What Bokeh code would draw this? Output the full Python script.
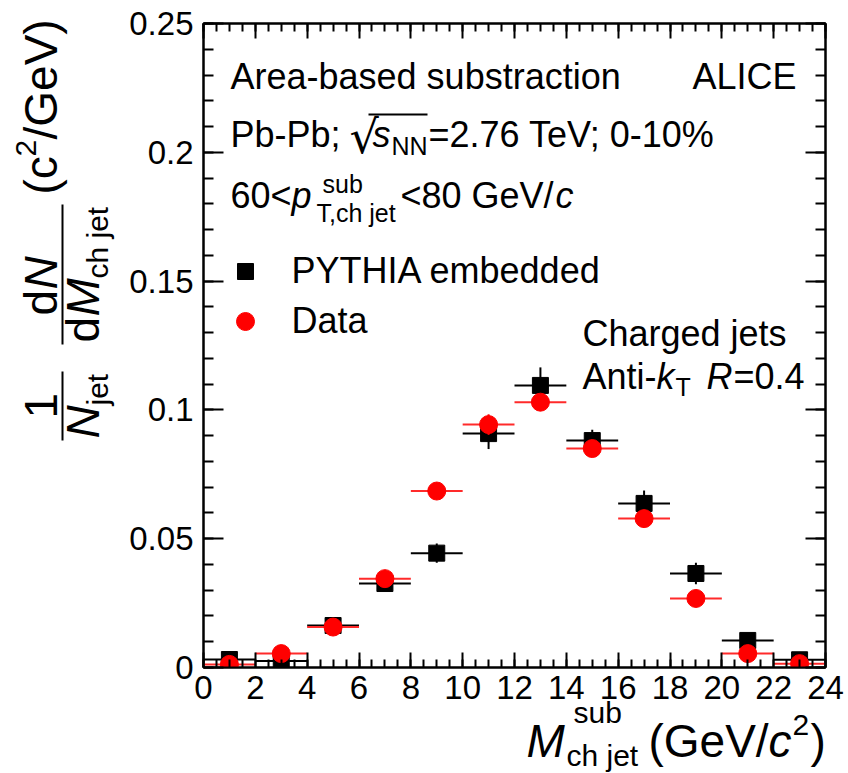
import numpy as np
from bokeh.plotting import figure
from bokeh.layouts import row, column
from bokeh.models import (Label, LinearAxis, FixedTicker, Range1d,
                          CustomJSTickFormatter, ColumnDataSource)
from bokeh.embed import file_html
from bokeh.resources import INLINE

# ---------------- data ----------------
mass_centers = [1, 3, 5, 7, 9, 11, 13, 15, 17, 19, 21, 23]          # GeV/c^2
bin_half_width = [1, 1, 1, 1, 1, 1, 1, 1, 1, 1, 1, 1]
pythia_vals = [0.0031, 0.0025, 0.0163, 0.0326, 0.0444, 0.0908,
               0.1095, 0.0881, 0.0637, 0.0365, 0.0105, 0.0030]
pythia_err = [0.0010, 0.0010, 0.0012, 0.0020, 0.0037, 0.0060,
              0.0070, 0.0042, 0.0050, 0.0042, 0.0020, 0.0010]
data_vals = [0.0012, 0.0054, 0.0157, 0.0345, 0.0685, 0.0943,
             0.1030, 0.0850, 0.0578, 0.0268, 0.0054, 0.0015]
data_err = [0.0005, 0.0010, 0.0010, 0.0015, 0.0020, 0.0040,
            0.0030, 0.0020, 0.0020, 0.0015, 0.0010, 0.0005]

x_ticks = [0, 2, 4, 6, 8, 10, 12, 14, 16, 18, 20, 22, 24]
y_ticks = [0, 0.05, 0.1, 0.15, 0.2, 0.25]

# ---------------- geometry (page pixels) ----------------
W, H = 848, 773
YT_W = 120                 # width of the y-title panel
MH = 717                   # height of the main figure
XT_TOP = 695               # top of the x-title panel on the page
FL, FR, FT, FB = 203, 825, 23, 667   # frame edges on the page
X0, X1 = 0.0, 24.0
Y0, Y1 = 0.0, 0.25
FONT = "Liberation Sans"
MW = W - YT_W


def dx(sx):
    return X0 + (sx - FL) * (X1 - X0) / (FR - FL)


def dy(sy):
    return Y0 + (FB - sy) * (Y1 - Y0) / (FB - FT)


p = figure(width=MW, height=MH, x_range=(X0, X1), y_range=(Y0, Y1),
           output_backend="svg", toolbar_location=None,
           min_border_left=FL - YT_W, min_border_right=W - FR,
           min_border_top=FT, min_border_bottom=MH - FB)
p.frame_align = False
p.xgrid.grid_line_color = None
p.ygrid.grid_line_color = None
p.outline_line_color = "black"
p.outline_line_width = 2
p.background_fill_color = "white"
p.border_fill_color = "white"

x_minor = list(np.arange(0, 24.01, 0.5))
y_minor = list(np.round(np.arange(0, 0.2501, 0.01), 3))


def style_axis(ax, ticks, minor, tin, min_in, labels=True):
    ax.ticker = FixedTicker(ticks=ticks, minor_ticks=minor)
    ax.axis_line_width = 2
    ax.axis_line_color = "black"
    ax.major_tick_in = tin
    ax.major_tick_out = 0
    ax.minor_tick_in = min_in
    ax.minor_tick_out = 0
    ax.major_tick_line_width = 2
    ax.minor_tick_line_width = 2
    ax.major_tick_line_color = "black"
    ax.minor_tick_line_color = "black"
    if labels:
        ax.major_label_text_font = FONT
        ax.major_label_text_font_size = "33px"
        ax.major_label_text_color = "black"
    else:
        ax.major_label_text_font_size = "1px"
        ax.major_label_text_alpha = 0
        ax.major_label_standoff = 0


style_axis(p.xaxis[0], x_ticks, x_minor, 15, 8)
p.xaxis[0].major_label_standoff = 8
style_axis(p.yaxis[0], y_ticks, y_minor, 20, 10)
p.yaxis[0].major_label_standoff = 10
p.yaxis[0].formatter = CustomJSTickFormatter(
    code="return tick == 0 ? '0' : String(parseFloat(tick.toFixed(3)));")

top_ax = LinearAxis()
style_axis(top_ax, x_ticks, x_minor, 15, 8, labels=False)
p.add_layout(top_ax, "above")
right_ax = LinearAxis()
style_axis(right_ax, y_ticks, y_minor, 20, 10, labels=False)
p.add_layout(right_ax, "right")

# ---------------- data marks ----------------
xc = np.array(mass_centers, dtype=float)
hw = np.array(bin_half_width, dtype=float)
py = np.array(pythia_vals)
pe = np.array(pythia_err)
dv = np.array(data_vals)
de = np.array(data_err)

src_p = ColumnDataSource(dict(x=xc, xl=xc - hw, xr=xc + hw, y=py,
                              yl=py - pe, yh=py + pe))
src_d = ColumnDataSource(dict(x=xc, xl=xc - hw, xr=xc + hw, y=dv,
                              yl=dv - de, yh=dv + de))

p.segment(x0="xl", y0="y", x1="xr", y1="y", source=src_p,
          line_color="black", line_width=2)
p.segment(x0="x", y0="yl", x1="x", y1="yh", source=src_p,
          line_color="black", line_width=2)
p.scatter(x="x", y="y", source=src_p, marker="square", size=16,
          fill_color="black", line_color="black")

p.segment(x0="xl", y0="y", x1="xr", y1="y", source=src_d,
          line_color="#ff2a2a", line_width=2)
p.segment(x0="x", y0="yl", x1="x", y1="yh", source=src_d,
          line_color="#ff0000", line_width=2)
p.scatter(x="x", y="y", source=src_d, marker="circle", size=18,
          fill_color="#ff0000", line_color="#ff0000")


# ---------------- texts (anchor = visual middle of the text) ----------------
def make_txt(fig, fx, fy):
    def txt(sx, sy, text, size, align="left", italic=False, angle=0.0,
            font=FONT):
        fig.add_layout(Label(x=fx(sx), y=fy(sy), text=text,
                             text_font=font, text_font_size=f"{size}px",
                             text_font_style="italic" if italic else "normal",
                             text_align=align, text_baseline="middle",
                             text_color="black", angle=angle))
    return txt


txt = make_txt(p, dx, dy)

# line 1
txt(230, 76, "Area-based substraction", 36)
txt(796, 76, "ALICE", 36, align="right")
# line 2
txt(230, 134, "Pb-Pb;", 36)
txt(349, 136, "\u221a", 46, font="DejaVu Sans")
txt(372, 134, "s", 36, italic=True)
txt(391, 145, "NN", 25)
txt(428, 134, "=2.76 TeV; 0-10%", 36)
p.segment(x0=[dx(368)], y0=[dy(114)], x1=[dx(427)], y1=[dy(114)],
          line_color="black", line_width=2)
# line 3
txt(230, 195, "60<", 36)
txt(291, 195, "p", 36, italic=True)
txt(322, 183, "sub", 25)
txt(316, 212, "T,ch jet", 25)
txt(400, 195, "<80 GeV/", 36)
txt(555, 195, "c", 36, italic=True)

# legend
p.scatter(x=[dx(245)], y=[dy(271)], marker="square", size=16,
          fill_color="black", line_color="black")
p.scatter(x=[dx(245)], y=[dy(321)], marker="circle", size=18,
          fill_color="#ff0000", line_color="#ff0000")
txt(291, 270, "PYTHIA embedded", 36)
txt(291, 320, "Data", 36)

# jet definition
txt(582, 333, "Charged jets", 36)
txt(582, 376, "Anti-", 36)
txt(656, 376, "k", 36, italic=True)
txt(675, 386, "T", 25)
txt(706, 376, "R", 36, italic=True)
txt(733, 376, "=0.4", 36)


def blank_fig(w, h, xr, yr):
    f = figure(width=w, height=h, x_range=Range1d(*xr), y_range=Range1d(*yr),
               output_backend="svg", toolbar_location=None,
               x_axis_type=None, y_axis_type=None, min_border=0)
    f.frame_align = False
    f.xgrid.grid_line_color = None
    f.ygrid.grid_line_color = None
    f.outline_line_color = None
    f.background_fill_alpha = 0
    f.border_fill_alpha = 0
    return f


# ---------------- y-axis title panel (page coords x 0..120) ----------------
yf = blank_fig(YT_W, H, (0, YT_W), (0, H))
ytxt = make_txt(yf, lambda sx: sx, lambda sy: H - sy)
A = np.pi / 2
LC, RC, SC = 40, 82, 97      # column centres: numerators, denominators, subscripts
# 1 / N_jet
ytxt(LC, 418, "1", 46, angle=A)
ytxt(RC, 438, "N", 46, italic=True, angle=A)
ytxt(SC, 405, "jet", 30, angle=A)
# dN / dM_ch jet
ytxt(LC, 315, "d", 46, angle=A)
ytxt(LC, 289, "N", 46, italic=True, angle=A)
ytxt(RC, 342, "d", 46, angle=A)
ytxt(RC, 316, "M", 46, italic=True, angle=A)
ytxt(SC, 278, "ch jet", 30, angle=A)
# (c^2/GeV)
ytxt(LC, 194, "(c", 46, angle=A)
ytxt(25, 156, "2", 30, angle=A)
ytxt(LC, 139, "/GeV)", 46, angle=A)
# fraction bars
yf.segment(x0=[62, 62], y0=[H - 440, H - 344], x1=[62, 62],
           y1=[H - 371, H - 204], line_color="black", line_width=2)

# ---------------- x-axis title panel (overlaps the bottom border) ----------------
XT_H = H - XT_TOP
xf = blank_fig(MW, XT_H, (YT_W, W), (0, XT_H))
xf.margin = (XT_TOP - MH, 0, 0, 0)
xtxt = make_txt(xf, lambda sx: sx, lambda sy: H - sy)
xtxt(526, 740, "M", 46, italic=True)
xtxt(573, 712, "sub", 30)
xtxt(566, 755, "ch jet", 30)
xtxt(648, 740, "(GeV/", 46)
xtxt(768, 740, "c", 46, italic=True)
xtxt(792, 724, "2", 30)
xtxt(810, 740, ")", 46)

layout = row(yf, column(p, xf, spacing=0), spacing=0)
open("out.html", "w").write(file_html(layout, INLINE))
